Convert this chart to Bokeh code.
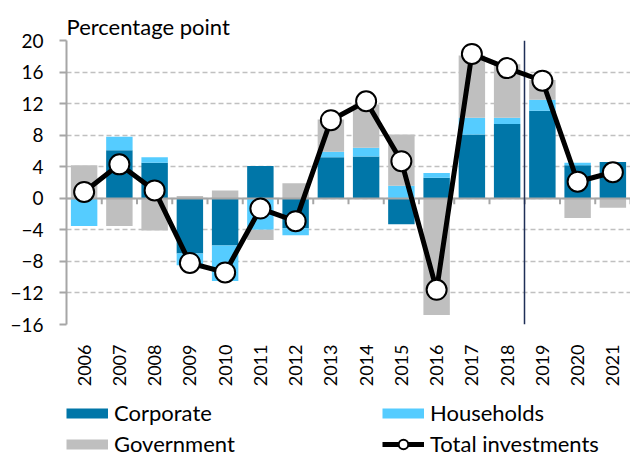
import math
from bokeh.plotting import figure
from bokeh.layouts import column
from bokeh.models import (ColumnDataSource, Range1d, FixedTicker, Legend, LegendItem)
from bokeh.embed import file_html
from bokeh.resources import INLINE

years = ["2006", "2007", "2008", "2009", "2010", "2011", "2012", "2013",
         "2014", "2015", "2016", "2017", "2018", "2019", "2020", "2021"]
corporate = [0.0, 6.1, 4.5, -7.0, -6.0, 4.1, -3.8, 5.2, 5.3, -3.3, 2.6, 8.1, 9.4, 11.1, 4.2, 4.6]
households = [-3.5, 1.7, 0.7, -1.5, -4.5, -4.0, -0.9, 0.7, 1.1, 1.6, 0.6, 2.1, 0.8, 1.4, 0.3, 0.0]
government = [4.2, -3.5, -4.1, 0.3, 1.0, -1.3, 1.9, 4.1, 5.5, 6.5, -14.8, 7.9, 6.8, 2.5, -2.5, -1.2]
total = [0.8, 4.3, 1.0, -8.2, -9.4, -1.3, -2.9, 9.9, 12.3, 4.7, -11.6, 18.3, 16.5, 14.9, 2.1, 3.3]
y_ticks = [-16, -12, -8, -4, 0, 4, 8, 12, 16, 20]
split_year = "2019"

FONT = "Lato"
C_CORP = "#0076A8"
C_HH = "#55CCFF"
C_GOV = "#BFBFBF"
AXIS_GRAY = "#A6A6A6"

xs = list(range(len(years)))

# stacked geometry: positives stacked upward, negatives downward
series = [("Corporate", corporate, C_CORP), ("Households", households, C_HH),
          ("Government", government, C_GOV)]
pos_base = [0.0] * len(years)
neg_base = [0.0] * len(years)
stack_sources = []
for name, vals, col in series:
    tops, bots = [], []
    for i, v in enumerate(vals):
        if v >= 0:
            bots.append(pos_base[i]); tops.append(pos_base[i] + v); pos_base[i] += v
        else:
            tops.append(neg_base[i]); bots.append(neg_base[i] + v); neg_base[i] += v
    stack_sources.append((name, ColumnDataSource(dict(x=xs, top=tops, bottom=bots)), col))

W = 630
ML, MT = 66, 40
FH = 284
MAIN_H = 400
LEG_H = 459 - MAIN_H

p = figure(frame_width=W - ML, frame_height=FH,
           x_range=Range1d(-0.5, len(years) - 0.5), y_range=Range1d(-16, 20),
           output_backend="svg", toolbar_location=None,
           min_border_left=ML, min_border_right=0, min_border_top=MT,
           min_border_bottom=MAIN_H - MT - FH,
           outline_line_color=None, background_fill_color="white",
           border_fill_color="white")

p.title.text = "Percentage point"
p.title.text_font = FONT
p.title.text_font_size = "22px"
p.title.text_font_style = "normal"
p.title.text_color = "black"
p.title.standoff = 2
p.title.offset = 0

# y axis
p.yaxis.ticker = FixedTicker(ticks=y_ticks)
p.yaxis.axis_line_color = AXIS_GRAY
p.yaxis.axis_line_width = 2
p.yaxis.major_tick_line_color = AXIS_GRAY
p.yaxis.major_tick_line_width = 2
p.yaxis.major_tick_out = 7
p.yaxis.major_tick_in = 0
p.yaxis.minor_tick_line_color = None
p.yaxis.major_label_text_font = FONT
p.yaxis.major_label_text_font_size = "19px"
p.yaxis.major_label_text_color = "black"
p.yaxis.major_label_standoff = 16

# x axis (labels only)
p.xaxis.ticker = FixedTicker(ticks=xs)
p.xaxis.major_label_overrides = {i: y for i, y in enumerate(years)}
p.xaxis.major_label_orientation = math.pi / 2
p.xaxis.axis_line_color = None
p.xaxis.major_tick_line_color = None
p.xaxis.minor_tick_line_color = None
p.xaxis.major_label_text_font = FONT
p.xaxis.major_label_text_font_size = "18px"
p.xaxis.major_label_text_color = "black"
p.xaxis.major_label_standoff = 14

p.xgrid.grid_line_color = None
p.ygrid.ticker = FixedTicker(ticks=y_ticks)
p.ygrid.grid_line_color = "#C0C0C0"
p.ygrid.grid_line_width = 1.5
p.ygrid.grid_line_dash = "5 3"

for name, src, col in stack_sources:
    p.vbar(x="x", top="top", bottom="bottom", width=0.75, source=src,
           fill_color=col, line_color=None)

# zero axis line with category boundary ticks
p.hspan(y=[0], line_color=AXIS_GRAY, line_width=2)
p.ray(x=[i + 0.5 for i in xs], y=[0] * len(xs), length=6, length_units="screen",
      angle=-math.pi / 2, line_color=AXIS_GRAY, line_width=2)

# vertical separator between 2018 and 2019
p.vspan(x=[years.index(split_year) - 0.5], line_color="#1F2F57", line_width=1.5)

tsrc = ColumnDataSource(dict(x=xs, y=total))
p.line(x="x", y="y", source=tsrc, line_color="black", line_width=5, line_join="round")
p.scatter(x="x", y="y", source=tsrc, size=20, fill_color="white",
          line_color="black", line_width=2)

# ---- legend strip below the chart ----
pl = figure(width=W, height=LEG_H, x_axis_type=None, y_axis_type=None,
            x_range=Range1d(0, 1), y_range=Range1d(0, 1),
            output_backend="svg", toolbar_location=None,
            min_border_left=0, min_border_right=0, min_border_top=0,
            min_border_bottom=0, outline_line_color=None,
            background_fill_color="white", border_fill_color="white")

# proxy renderers (placed outside the visible range) that only feed the legend
OFF = [-10]
sw = {}
for name, _, col in stack_sources:
    sw[name] = pl.line(x=OFF, y=OFF, line_color=col, line_width=10, line_cap="butt")
tl = pl.line(x=OFF, y=OFF, line_color="black", line_width=5)
ts = pl.scatter(x=OFF, y=OFF, size=20, fill_color="white", line_color="black", line_width=2)

GH = 24
SP = 4
GW = 42
STAND = 6
COL_STEP = 316
leg_h = 2 * GH + SP
legend = Legend(
    items=[LegendItem(label="Corporate", renderers=[sw["Corporate"]]),
           LegendItem(label="Households", renderers=[sw["Households"]]),
           LegendItem(label="Government", renderers=[sw["Government"]]),
           LegendItem(label="Total investments", renderers=[tl, ts])],
    orientation="horizontal", ncols=2, location=(0, LEG_H - 5 - leg_h),
    glyph_width=GW, glyph_height=GH, label_standoff=STAND,
    label_width=COL_STEP - GW - STAND - SP,
    label_height=GH, spacing=SP, padding=0, margin=0,
    border_line_color=None, background_fill_alpha=0,
    label_text_font=FONT, label_text_font_size="22px", label_text_color="black")
pl.add_layout(legend)

open("out.html", "w").write(file_html(column(p, pl, spacing=0), INLINE))
